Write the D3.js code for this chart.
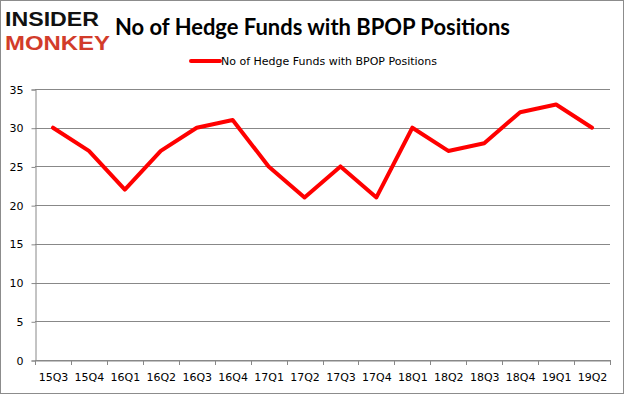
<!DOCTYPE html>
<html>
<head>
<meta charset="utf-8">
<script src="https://cdn.jsdelivr.net/npm/d3@7"></script>
<style>
  html, body { margin: 0; padding: 0; background: #fff; }
  svg { display: block; }
</style>
</head>
<body>
<div id="chart"></div>
<script>
// data
const quarters = ["15Q3", "15Q4", "16Q1", "16Q2", "16Q3", "16Q4", "17Q1", "17Q2",
  "17Q3", "17Q4", "18Q1", "18Q2", "18Q3", "18Q4", "19Q1", "19Q2"];
const funds = [30, 27, 22, 27, 30, 31, 25, 21, 25, 21, 30, 27, 28, 32, 33, 30];
const yTicks = [0, 5, 10, 15, 20, 25, 30, 35];
const seriesName = "No of Hedge Funds with BPOP Positions";
const chartTitle = "No of Hedge Funds with BPOP Positions";

const width = 625, height = 395;
const margin = { top: 89, right: 15, bottom: 35, left: 35 };

const svg = d3.select("#chart").append("svg")
  .attr("width", width)
  .attr("height", height);

// outer frame
svg.append("rect")
  .attr("x", 0.5).attr("y", 0.5)
  .attr("width", width - 2).attr("height", height - 2)
  .attr("fill", "#fff")
  .attr("stroke", "#8c8c8c");

// logo
svg.append("text")
  .attr("x", 5).attr("y", 26)
  .attr("font-family", "Liberation Sans")
  .attr("font-weight", "bold")
  .attr("font-size", 21)
  .attr("textLength", 94)
  .attr("lengthAdjust", "spacingAndGlyphs")
  .attr("fill", "#111")
  .text("INSIDER");
svg.append("text")
  .attr("x", 5).attr("y", 50)
  .attr("font-family", "Liberation Sans")
  .attr("font-weight", "bold")
  .attr("font-size", 21)
  .attr("textLength", 105)
  .attr("lengthAdjust", "spacingAndGlyphs")
  .attr("fill", "#d23c2a")
  .text("MONKEY");

// title
svg.append("text")
  .attr("x", 115).attr("y", 35)
  .attr("font-family", "Lato, 'Open Sans', sans-serif")
  .attr("font-weight", "bold")
  .attr("font-size", 23)
  .attr("textLength", 395)
  .attr("lengthAdjust", "spacingAndGlyphs")
  .attr("fill", "#000")
  .text(chartTitle);

// legend
svg.append("line")
  .attr("x1", 191).attr("x2", 220)
  .attr("y1", 61).attr("y2", 61)
  .attr("stroke", "#ff0000")
  .attr("stroke-width", 4)
  .attr("stroke-linecap", "round");
svg.append("text")
  .attr("x", 221).attr("y", 65)
  .attr("font-family", "DejaVu Sans")
  .attr("font-size", 11)
  .attr("textLength", 216)
  .attr("lengthAdjust", "spacingAndGlyphs")
  .attr("fill", "#000")
  .text(seriesName);

const x = d3.scaleBand()
  .domain(quarters)
  .range([margin.left, width - margin.right]);

const y = d3.scaleLinear()
  .domain([0, 35])
  .range([height - margin.bottom, margin.top]);

// gridlines
svg.append("g")
  .selectAll("line")
  .data(yTicks)
  .join("line")
  .attr("x1", margin.left)
  .attr("x2", width - margin.right)
  .attr("y1", d => Math.round(y(d)) + 0.5)
  .attr("y2", d => Math.round(y(d)) + 0.5)
  .attr("stroke", "#888")
  .attr("stroke-width", 1);

// y axis
const yAxis = svg.append("g")
  .attr("transform", `translate(${margin.left + 0.5},0.5)`)
  .call(d3.axisLeft(y).tickValues(yTicks).tickSize(4).tickPadding(8));
yAxis.select(".domain").attr("stroke", "#888");
yAxis.selectAll(".tick line").attr("stroke", "#888");
yAxis.selectAll("text")
  .attr("font-family", "DejaVu Sans")
  .attr("font-size", 11)
  .attr("fill", "#000");

// x axis
const xAxis = svg.append("g")
  .attr("transform", `translate(0.5,${Math.round(y(0)) + 0.5})`)
  .call(d3.axisBottom(x).tickSize(0).tickPadding(13));
xAxis.select(".domain").attr("stroke", "#888");
xAxis.selectAll("text")
  .attr("font-family", "DejaVu Sans")
  .attr("font-size", 11)
  .attr("fill", "#000");

// tick marks between categories
svg.append("g")
  .selectAll("line")
  .data(quarters.concat(["end"]))
  .join("line")
  .attr("x1", (d, i) => Math.round(margin.left + i * x.step()) + 0.5)
  .attr("x2", (d, i) => Math.round(margin.left + i * x.step()) + 0.5)
  .attr("y1", Math.round(y(0)))
  .attr("y2", Math.round(y(0)) + 5)
  .attr("stroke", "#888");

// series line
const line = d3.line()
  .x((d, i) => x(quarters[i]) + x.bandwidth() / 2)
  .y(d => y(d));

svg.append("path")
  .datum(funds)
  .attr("d", line)
  .attr("fill", "none")
  .attr("stroke", "#ff0000")
  .attr("stroke-width", 4)
  .attr("stroke-linejoin", "round")
  .attr("stroke-linecap", "round");
</script>
</body>
</html>
